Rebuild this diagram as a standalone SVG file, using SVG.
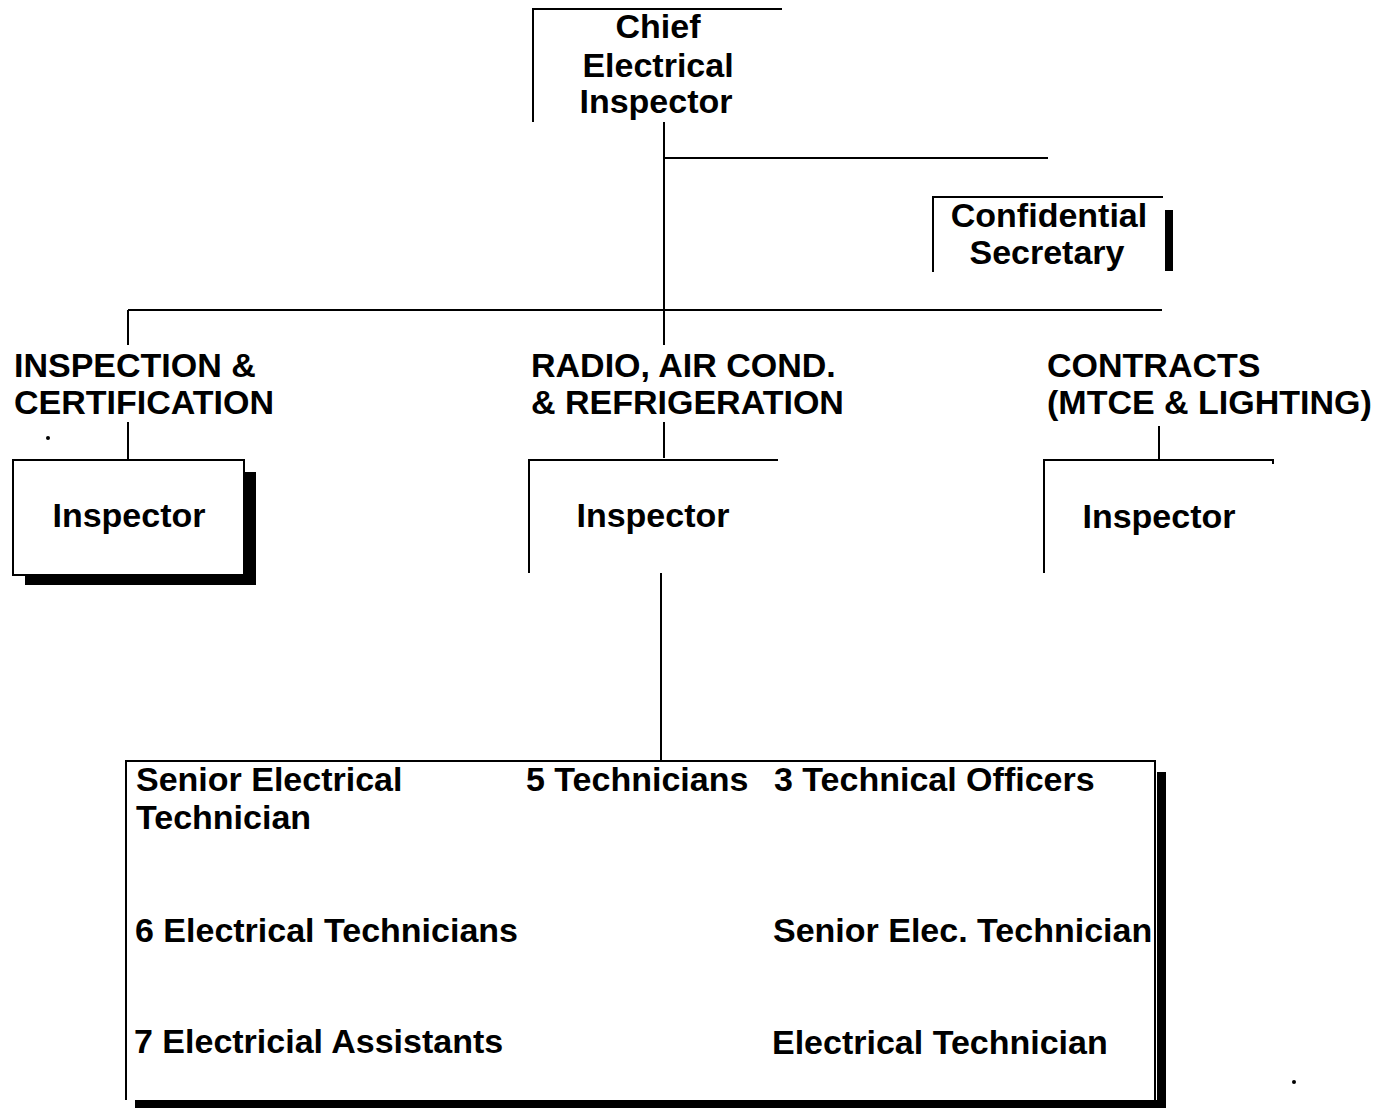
<svg xmlns="http://www.w3.org/2000/svg" width="1377" height="1110" viewBox="0 0 1377 1110">
  <style>
    .t { font-family: "Liberation Sans", Arial, sans-serif; font-weight: bold; font-size: 34px; fill: #000; }
    .c { text-anchor: middle; }
    .ln { stroke: #000; stroke-width: 2; fill: none; }
    .sh { fill: #000; }
  </style>
  <rect width="1377" height="1110" fill="#fff"/>

  <!-- connectors -->
  <g id="connectors" class="ln">
    <path d="M664 122 V345"/>
    <path d="M664 158 H1048"/>
    <path d="M128 310 H1162"/>
    <path d="M128 310 V345"/>
    <path d="M128 422 V460"/>
    <path d="M664 422 V458"/>
    <path d="M1159 426 V460"/>
    <path d="M661 573 V761"/>
  </g>

  <!-- top: Chief Electrical Inspector -->
  <g id="chief">
    <path class="ln" d="M533 122 V9 H782"/>
    <text class="t c" x="658" y="38">Chief</text>
    <text class="t c" x="658" y="77">Electrical</text>
    <text class="t c" x="656" y="113">Inspector</text>
  </g>

  <!-- Confidential Secretary -->
  <g id="secretary">
    <path class="ln" d="M933 272 V197 H1163"/>
    <rect class="sh" x="1165" y="210" width="8" height="61"/>
    <text class="t c" x="1049" y="227">Confidential</text>
    <text class="t c" x="1047" y="264">Secretary</text>
  </g>

  <!-- divisions -->
  <g id="div-inspection">
    <text class="t" x="14" y="377">INSPECTION &amp;</text>
    <text class="t" x="14" y="414">CERTIFICATION</text>
  </g>
  <g id="div-radio">
    <text class="t" x="531" y="377">RADIO, AIR COND.</text>
    <text class="t" x="531" y="414">&amp; REFRIGERATION</text>
  </g>
  <g id="div-contracts">
    <text class="t" x="1047" y="377">CONTRACTS</text>
    <text class="t" x="1047" y="414">(MTCE &amp; LIGHTING)</text>
  </g>

  <!-- stray marks -->
  <circle cx="48" cy="438" r="2" fill="#000"/>
  <circle cx="1294" cy="1082" r="2" fill="#000"/>

  <!-- inspectors -->
  <g id="inspector-1">
    <rect class="sh" x="244" y="472" width="12" height="113"/>
    <rect class="sh" x="25" y="575" width="231" height="10"/>
    <rect class="ln" x="13" y="460" width="231" height="115" fill="#fff"/>
    <text class="t c" x="129" y="527">Inspector</text>
  </g>
  <g id="inspector-2">
    <path class="ln" d="M529 573 V460 H778"/>
    <text class="t c" x="653" y="527">Inspector</text>
  </g>
  <g id="inspector-3">
    <path class="ln" d="M1044 573 V460 H1273 V464"/>
    <text class="t c" x="1159" y="528">Inspector</text>
  </g>

  <!-- staff box -->
  <g id="staff">
    <rect class="sh" x="1157" y="772" width="9" height="336"/>
    <rect class="sh" x="135" y="1100" width="1031" height="8"/>
    <path class="ln" d="M126 1100 V761 H1155 V1100"/>
    <text class="t" x="136" y="791">Senior Electrical</text>
    <text class="t" x="136" y="829">Technician</text>
    <text class="t" x="526" y="791">5 Technicians</text>
    <text class="t" x="774" y="791">3 Technical Officers</text>
    <text class="t" x="135" y="942">6 Electrical Technicians</text>
    <text class="t" x="773" y="942">Senior Elec. Technician</text>
    <text class="t" x="134" y="1053">7 Electricial Assistants</text>
    <text class="t" x="772" y="1054">Electrical Technician</text>
  </g>
</svg>
